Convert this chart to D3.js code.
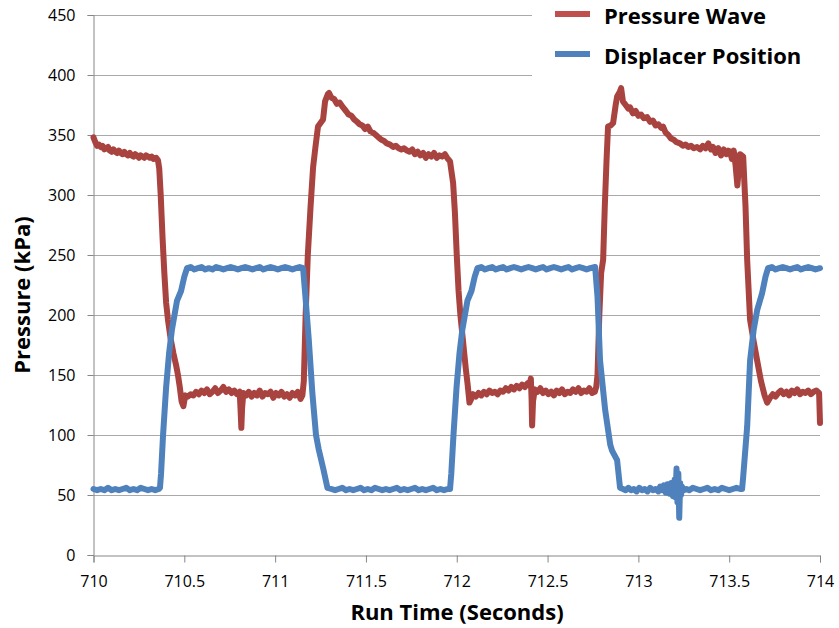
<!DOCTYPE html>
<meta charset="utf-8">
<style>
    html, body { margin: 0; background: #fff; }
    .tick text { font-family: "Open Sans", sans-serif; font-size: 16px; fill: #000; }
    .title { font-family: "Open Sans", sans-serif; font-weight: bold; font-size: 22px; fill: #000; }
    .grid line { stroke: #a9a9a9; stroke-width: 1px; }
    .series { fill: none; stroke-width: 6px; stroke-linejoin: round; stroke-linecap: round; }
</style>
<body>
<script src="https://d3js.org/d3.v7.min.js"></script>
<script>

var width = 839,
    height = 628;

// chart values
var xTicks = [710, 710.5, 711, 711.5, 712, 712.5, 713, 713.5, 714];
var yTicks = [0, 50, 100, 150, 200, 250, 300, 350, 400, 450];
var seriesNames = ["Pressure Wave", "Displacer Position"];

// [run time (s), kPa]
var pressureWave = [
    [710.00,348],[710.01,344],[710.02,341],[710.03,342],[710.04,340],[710.05,341],[710.06,338],[710.07,339],
    [710.08,340],[710.09,337],[710.10,336],[710.11,338],[710.12,336],[710.13,335],[710.14,337],[710.15,335],
    [710.16,334],[710.17,336],[710.18,334],[710.19,333],[710.20,335],[710.21,333],[710.22,332],[710.23,334],
    [710.24,333],[710.25,331],[710.26,333],[710.27,332],[710.28,331],[710.29,333],[710.30,332],[710.31,331],
    [710.32,332],[710.33,330],[710.345,331],[710.355,329],
    [710.362,322],[710.37,300],[710.38,265],[710.39,235],[710.40,210],[710.41,196],[710.425,180],[710.44,168],
    [710.455,158],[710.465,150],[710.475,140],[710.485,128],[710.495,124],[710.505,133],
    [710.52,132],[710.535,134],[710.55,133],[710.565,136],[710.58,134],[710.595,137],[710.61,135],[710.625,138],
    [710.64,134],[710.655,136],[710.67,139],[710.685,135],[710.70,137],[710.715,140],[710.73,136],[710.745,138],
    [710.76,135],[710.775,137],[710.79,134],[710.805,136],[710.81,120],[710.814,106],[710.818,122],[710.825,135],
    [710.84,133],[710.855,136],[710.87,132],[710.885,135],[710.90,133],[710.915,137],[710.93,132],[710.945,135],
    [710.96,134],[710.975,136],[710.99,131],[711.005,135],[711.02,133],[711.035,136],[711.05,132],[711.065,134],
    [711.08,131],[711.095,135],[711.11,133],[711.125,136],[711.14,130],[711.15,133],
    [711.158,145],[711.168,200],[711.18,250],[711.195,290],[711.209,323],[711.222,340],[711.236,357],[711.25,360],
    [711.264,363],[711.275,378],[711.29,384],[711.297,385],
    [711.31,381],[711.325,380],[711.34,376],[711.355,377],[711.374,373],[711.39,370],[711.405,367],[711.42,366],
    [711.435,363],[711.451,361],[711.465,359],[711.48,358],[711.495,355],[711.51,357],[711.525,353],[711.539,352],
    [711.555,350],[711.57,348],[711.585,346],[711.60,345],[711.615,343],[711.633,342],[711.65,340],[711.665,341],
    [711.68,339],[711.695,338],[711.71,339],[711.726,337],[711.74,336],[711.755,338],[711.77,334],[711.785,336],
    [711.80,333],[711.815,335],[711.83,331],[711.845,334],[711.86,332],[711.875,335],[711.89,331],[711.905,333],
    [711.92,332],[711.935,334],[711.947,331],[711.963,328],
    [711.98,310],[711.99,285],[712.00,250],[712.01,220],[712.02,200],[712.03,185],[712.04,170],[712.05,155],
    [712.06,142],[712.07,127],[712.08,130],[712.09,134],
    [712.105,132],[712.12,135],[712.135,133],[712.15,136],[712.165,134],[712.18,137],[712.195,135],[712.21,136],
    [712.225,134],[712.24,137],[712.255,136],[712.27,139],[712.285,137],[712.30,140],[712.315,138],[712.33,141],
    [712.345,139],[712.36,142],[712.375,140],[712.39,143],[712.40,141],[712.408,147],[712.412,130],[712.415,108],
    [712.42,128],[712.43,138],[712.445,136],[712.46,139],[712.475,135],[712.49,137],[712.505,134],[712.52,136],
    [712.535,133],[712.55,137],[712.565,135],[712.58,138],[712.595,134],[712.61,136],[712.625,135],[712.64,138],
    [712.655,136],[712.67,139],[712.685,135],[712.70,137],[712.715,136],[712.73,139],[712.745,135],[712.76,136],
    [712.768,140],
    [712.775,150],[712.785,200],[712.795,235],[712.806,246],[712.815,290],[712.825,330],[712.833,357],[712.848,358],
    [712.861,360],[712.875,375],[712.883,382],[712.898,386],[712.905,389],
    [712.915,378],[712.93,375],[712.945,372],[712.954,373],[712.97,368],[712.985,370],[713.00,366],[713.015,367],
    [713.03,364],[713.048,365],[713.065,361],[713.08,362],[713.095,358],[713.11,359],[713.125,356],[713.136,357],
    [713.15,352],[713.165,350],[713.18,347],[713.195,346],[713.21,344],[713.229,343],[713.245,341],[713.26,342],
    [713.275,340],[713.29,341],[713.305,339],[713.323,340],[713.34,338],[713.355,341],[713.37,339],[713.385,343],
    [713.40,338],[713.411,340],[713.425,335],[713.44,339],[713.455,333],[713.47,338],[713.485,334],[713.495,337],
    [713.505,336],[713.515,330],[713.525,337],[713.535,325],[713.545,308],[713.552,320],[713.56,334],[713.577,332],
    [713.59,290],[713.599,246],[713.615,196],[713.635,178],[713.654,162],[713.675,145],[713.695,133],[713.709,127],
    [713.725,131],[713.74,134],[713.755,132],[713.77,135],[713.785,137],[713.80,134],[713.815,136],[713.83,133],
    [713.845,137],[713.86,135],[713.875,138],[713.89,134],[713.905,136],[713.92,135],[713.935,137],[713.95,134],
    [713.965,136],[713.98,137],[713.995,135],[714.00,110]
];

var displacerPosition = [
    [710.00,55],[710.02,54],[710.04,55],[710.06,54],[710.08,56],[710.10,54],[710.12,55],[710.14,54],
    [710.16,55],[710.18,56],[710.20,54],[710.22,55],[710.24,54],[710.26,56],[710.28,55],[710.30,54],
    [710.32,55],[710.34,54],[710.36,55],
    [710.366,56],[710.372,68],[710.383,100],[710.40,140],[710.416,168],[710.432,188],[710.46,212],[710.482,220],
    [710.50,232],[710.515,239],
    [710.535,240],[710.555,238],[710.575,239],[710.595,240],[710.615,238],[710.635,239],[710.655,238],[710.675,240],
    [710.695,239],[710.715,238],[710.735,239],[710.755,240],[710.775,239],[710.795,238],[710.815,239],[710.835,240],
    [710.855,239],[710.875,238],[710.895,239],[710.915,240],[710.935,238],[710.955,239],[710.975,240],[710.995,239],
    [711.015,238],[711.035,239],[711.055,240],[711.075,239],[711.095,238],[711.115,239],[711.135,240],[711.154,239],
    [711.167,215],[711.185,180],[711.205,135],[711.225,100],[711.24,88],[711.265,72],[711.288,56],
    [711.31,55],[711.33,54],[711.35,55],[711.37,56],[711.39,54],[711.41,55],[711.43,54],[711.45,55],
    [711.47,56],[711.49,54],[711.51,55],[711.53,54],[711.55,56],[711.57,55],[711.59,54],[711.61,55],
    [711.63,54],[711.65,55],[711.67,56],[711.69,54],[711.71,55],[711.73,54],[711.75,55],[711.77,56],
    [711.79,54],[711.81,55],[711.83,54],[711.85,55],[711.87,56],[711.89,54],[711.91,55],[711.93,54],
    [711.95,55],[711.963,55],
    [711.97,68],[711.982,100],[711.999,140],[712.015,168],[712.031,188],[712.059,212],[712.081,220],[712.099,232],
    [712.114,239],
    [712.135,240],[712.155,238],[712.175,239],[712.195,240],[712.215,238],[712.235,239],[712.255,240],[712.275,238],
    [712.295,239],[712.315,240],[712.335,239],[712.355,238],[712.375,239],[712.395,240],[712.415,239],[712.435,238],
    [712.455,239],[712.475,240],[712.495,238],[712.515,239],[712.535,240],[712.555,239],[712.575,238],[712.595,239],
    [712.615,240],[712.635,238],[712.655,239],[712.675,240],[712.695,239],[712.715,238],[712.735,239],[712.762,240],
    [712.775,215],[712.789,162],[712.817,121],[712.845,92],[712.855,87],[712.883,79],[712.899,56],
    [712.915,55],[712.93,54],[712.945,56],[712.96,54],[712.975,55],[712.99,53],[713.005,56],[713.02,54],
    [713.035,55],[713.05,53],[713.065,56],[713.08,54],[713.095,55],[713.11,53],[713.12,57],[713.13,54],
    [713.14,58],[713.15,52],[713.16,59],[713.17,51],[713.18,60],[713.19,49],[713.20,63],[713.205,48],
    [713.21,72],[713.215,44],[713.22,68],[713.225,31],[713.23,60],[713.235,50],[713.24,57],[713.25,54],
    [713.265,55],[713.28,54],[713.30,56],[713.32,55],[713.34,54],[713.36,55],[713.38,56],[713.40,54],
    [713.42,55],[713.44,54],[713.46,56],[713.48,55],[713.50,54],[713.52,55],[713.54,56],[713.56,55],
    [713.571,55],
    [713.577,65],[713.599,107],[713.615,162],[713.635,188],[713.654,204],[713.681,218],[713.70,232],[713.714,239],
    [713.735,240],[713.755,238],[713.775,239],[713.795,240],[713.815,239],[713.835,238],[713.855,239],[713.875,240],
    [713.895,238],[713.915,239],[713.935,240],[713.955,239],[713.975,238],[714.00,239]
];

var svg = d3.select("body").append("svg")
    .attr("width", width)
    .attr("height", height);

var x = d3.scaleLinear()
    .domain([710, 714])
    .range([93.5, 820]);

var y = d3.scaleLinear()
    .domain([0, 450])
    .range([555, 15]);

// horizontal gridlines
svg.append("g")
    .attr("class", "grid")
    .selectAll("line")
    .data(yTicks.filter(function (d) { return d > 0; }))
    .enter().append("line")
    .attr("x1", x.range()[0])
    .attr("x2", x.range()[1])
    .attr("y1", function (d) { return Math.round(y(d)) + 0.5; })
    .attr("y2", function (d) { return Math.round(y(d)) + 0.5; });

// axes
svg.append("g")
    .attr("transform", "translate(93.5,0)")
    .call(d3.axisLeft(y).tickValues(yTicks).tickSize(6).tickPadding(12).tickFormat(d3.format("d")));

svg.append("g")
    .attr("transform", "translate(0,555.5)")
    .call(d3.axisBottom(x).tickValues(xTicks).tickSize(7).tickPadding(13).tickFormat(function (d) { return String(d); }));

svg.selectAll(".domain, .tick line").attr("stroke", "#868686");

// series
var line = d3.line()
    .x(function (d) { return x(d[0]); })
    .y(function (d) { return y(d[1]); });

svg.append("path")
    .datum(pressureWave)
    .attr("class", "series")
    .attr("stroke", "#a9433f")
    .attr("d", line);

svg.append("path")
    .datum(displacerPosition)
    .attr("class", "series")
    .attr("stroke", "#4f81bd")
    .attr("d", line);

// axis titles
svg.append("text")
    .attr("class", "title")
    .attr("text-anchor", "middle")
    .attr("x", 457)
    .attr("y", 620)
    .text("Run Time (Seconds)");

svg.append("text")
    .attr("class", "title")
    .attr("text-anchor", "middle")
    .attr("transform", "translate(30,295) rotate(-90)")
    .text("Pressure (kPa)");

// legend
var legend = svg.append("g");

legend.append("rect")
    .attr("x", 532)
    .attr("y", 0)
    .attr("width", width - 532)
    .attr("height", 84)
    .attr("fill", "#fff");

var legendColors = ["#c0504d", "#4f81bd"];

var item = legend.selectAll("g.item")
    .data(seriesNames)
    .enter().append("g")
    .attr("class", "item")
    .attr("transform", function (d, i) { return "translate(0," + (14 + i * 40) + ")"; });

item.append("line")
    .attr("x1", 555)
    .attr("x2", 590)
    .attr("stroke", function (d, i) { return legendColors[i]; })
    .attr("stroke-width", 6);

item.append("text")
    .attr("class", "title")
    .attr("x", 604)
    .attr("y", 9.5)
    .text(function (d) { return d; });

</script>
</body>
</html>
